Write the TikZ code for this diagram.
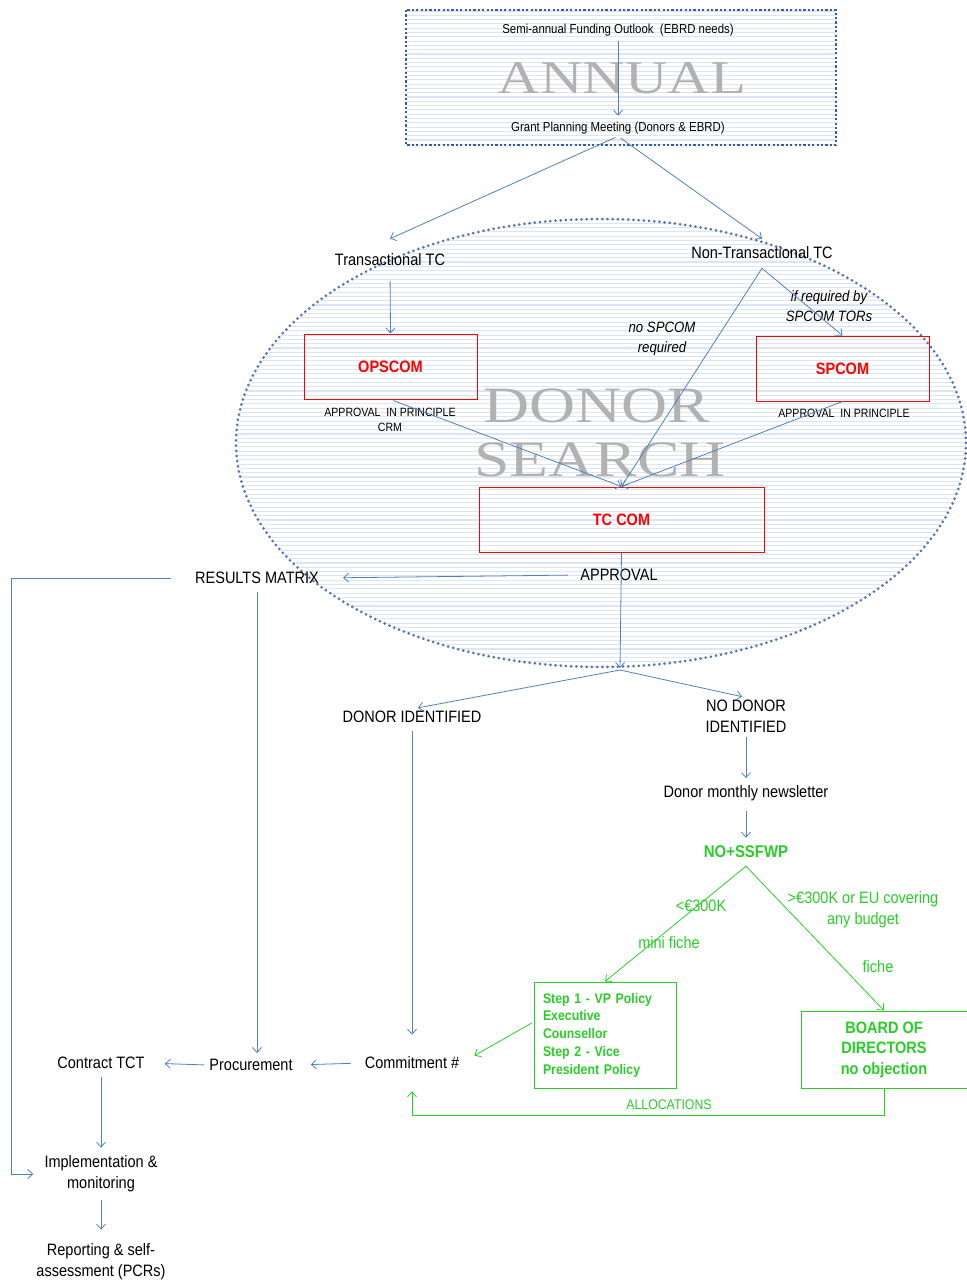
\documentclass[tikz,border=0pt]{standalone}
\usepackage{fontspec}
\setmainfont{Liberation Sans}[FakeStretch=0.88]
\newfontfamily\markfont{Liberation Serif}[FakeStretch=1.25]
\usetikzlibrary{arrows.meta}
\definecolor{FlowBlue}{RGB}{79,129,189}
\definecolor{DotBlue}{RGB}{50,92,165}
\definecolor{StripeBlue}{RGB}{220,229,243}
\definecolor{ComRed}{RGB}{255,0,0}
\definecolor{NoGreen}{RGB}{40,205,40}
\definecolor{MarkGray}{RGB}{178,178,178}
\tikzset{
  txt/.style={font=\fontsize{16.5}{21}\selectfont,align=center,inner sep=2pt},
  small/.style={font=\fontsize{12}{15}\selectfont,align=center,inner sep=2pt},
  note/.style={font=\fontsize{15}{19.5}\selectfont\itshape,align=center,inner sep=2pt},
  gtxt/.style={txt,text=NoGreen},
  combox/.style={draw=ComRed,line width=1pt,text=ComRed,font=\fontsize{16.5}{20}\selectfont\bfseries},
  gbox/.style={draw=NoGreen,line width=1pt,text=NoGreen,font=\fontsize{14}{17.8}\selectfont\bfseries},
  wmark/.style={text=MarkGray,inner sep=0pt},
  stripe/.style={draw=StripeBlue,line width=1.1pt},
  link/.style={draw=FlowBlue,line width=0.8pt,->},
  glink/.style={draw=NoGreen,line width=0.8pt,->},
}

\begin{document}
\begin{tikzpicture}[x=1pt,y=-1pt,>={Straight Barb[length=5pt,width=9pt]}]
\useasboundingbox (0,0) rectangle (966,1284);

% striped backgrounds
\begin{scope}
\clip (406,10) rectangle (836,145);
\foreach \y in {11,15.3,...,145} \draw[stripe] (406,\y) -- (836,\y);
\end{scope}
\begin{scope}
\clip (601,443) ellipse [x radius=365,y radius=224];
\foreach \y in {219,223.3,...,668} \draw[stripe] (230,\y) -- (970,\y);
\end{scope}

% big grey captions
\node[wmark,font=\markfont\fontsize{47}{47}\selectfont] (annualmark) at (622,78) {ANNUAL};
\node[wmark,font=\markfont\fontsize{51}{51}\selectfont] (donormark) at (597,406) {DONOR};
\node[wmark,font=\markfont\fontsize{51}{51}\selectfont] (searchmark) at (600,460) {SEARCH};

% frames
\draw[DotBlue,line width=2.6pt,dash pattern=on 2.2pt off 2.2pt] (406,10) rectangle (836,145);
\draw[DotBlue!85,line width=3pt,line cap=round,dash pattern=on 0pt off 5.2pt] (601,443) ellipse [x radius=365,y radius=224];

% annual planning
\node[small,font=\fontsize{13}{15}\selectfont] (outlook) at (618,30) {Semi-annual Funding Outlook\ \ (EBRD needs)};
\node[small,font=\fontsize{13}{15}\selectfont] (grant) at (618,128) {Grant Planning Meeting (Donors \& EBRD)};

\node[txt] (tran) at (390,260) {Transactional TC};
\node[txt] (nontran) at (762,253) {Non-Transactional TC};

% committees
\node[combox,minimum width=173pt,minimum height=65pt] (opscom) at (390.5,366.5) {OPSCOM};
\node[combox,minimum width=173pt,minimum height=65pt] (spcom) at (842.5,368.5) {SPCOM};
\node[combox,minimum width=285pt,minimum height=65pt] (tccom) at (621.5,519.5) {TC COM};
\node[small] (apprcrm) at (390,420) {APPROVAL\ \ IN PRINCIPLE\\CRM};
\node[small] (apprsp) at (844,413) {APPROVAL\ \ IN PRINCIPLE};
\node[note] (ifreq) at (829,306) {if required by\\SPCOM\ TORs};
\node[note] (nospcom) at (662,339) {no SPCOM\\required};

\node[txt] (approval) at (619,575) {APPROVAL};
\node[txt] (results) at (257,578) {RESULTS MATRIX};
\coordinate (split) at (620,670);

\node[txt] (donorid) at (412,717) {DONOR IDENTIFIED};
\node[txt] (nodonor) at (746,716) {NO DONOR\\IDENTIFIED};
\node[txt] (newsletter) at (746,793) {Donor monthly newsletter};
\node[gtxt,font=\fontsize{17}{20}\selectfont\bfseries] (ssfwp) at (746,852) {NO+SSFWP};

\node[gtxt] (lt300) at (701,906) {<€300K};
\node[gtxt] (minifiche) at (669,943) {mini fiche};
\node[gtxt] (gt300) at (863,910) {>€300K or EU covering\\any budget};
\node[gtxt] (fiche) at (878,967) {fiche};

\node[gbox,minimum width=142pt,minimum height=106pt,text width=124pt,inner sep=9pt,align=left] (step) at (605,1035)
  {Step 1 - VP Policy\\Executive\\Counsellor\\Step 2 - Vice\\President Policy};
\node[gbox,font=\fontsize{16.5}{20.5}\selectfont\bfseries,minimum width=166pt,minimum height=77pt,align=center] (board) at (884,1049.5)
  {BOARD OF\\DIRECTORS\\no objection};
\node[gtxt,font=\fontsize{14}{16}\selectfont] (alloc) at (669,1105) {ALLOCATIONS};

\node[txt] (commit) at (412,1063) {Commitment \#};
\node[txt] (proc) at (251,1065) {Procurement};
\node[txt] (contract) at (101,1063) {Contract TCT};
\node[txt] (impl) at (101,1174) {Implementation \&\\monitoring};
\node[txt] (report) at (101,1262) {Reporting \& self-\\assessment (PCRs)};
\coordinate (leftrail) at (11,578);
\coordinate (allocrow) at (650,1115);

% flow
\draw[link,shorten <=3pt,shorten >=4pt] (outlook) -- (grant);
\draw[link,shorten <=3pt] (grant.south) -- ([yshift=13pt]tran.north);
\draw[link,shorten <=3pt] (grant.south) -- ([yshift=6pt]nontran.north);
\draw[link,shorten <=13pt] (tran.south) -- (opscom.north);
\draw[link] ([yshift=-7pt]nontran.south) -- (spcom.north);
\draw[link] ([yshift=-7pt]nontran.south) -- (tccom.north);
\draw[link,shorten <=3pt] (opscom.south) -- (tccom.north);
\draw[link] (spcom.south) -- (tccom.north);
\draw[link,shorten >=2pt] (tccom.south) -- (split);
\draw[link,shorten <=10pt,shorten >=22pt] (approval.west) -- (results.east);
\draw[link,shorten >=6pt] (split) -- (donorid.north);
\draw[link,shorten >=4pt] (split) -- (nodonor.north);
\draw[link,shorten <=3pt,shorten >=5pt] (nodonor.south) -- (newsletter.north);
\draw[link,shorten <=8pt,shorten >=6pt] (newsletter.south) -- (ssfwp.north);
\draw[glink] ([yshift=-6pt]ssfwp.south) -- (step.north);
\draw[glink] ([yshift=-6pt]ssfwp.south) -- (board.north);
\draw[glink,shorten <=2pt,shorten >=15pt] ([yshift=13pt]step.west) -- (commit.east);
\draw[glink,shorten >=20pt] (board.south) |- (allocrow) -| (commit.south);
\draw[link,shorten <=6pt,shorten >=20pt] (donorid.south) -- (commit.north);
\draw[link,shorten <=12pt,shorten >=16pt] (commit.west) -- (proc.east);
\draw[link,shorten <=3pt,shorten >=18pt] (proc.west) -- (contract.east);
\draw[link,shorten <=6pt,shorten >=4pt] (results.south) -- (results.south |- proc.north);
\draw[link,shorten <=22pt,shorten >=9pt] (results.west) -- (leftrail) |- (impl.west);
\draw[link,shorten <=6pt,shorten >=6pt] (contract.south) -- (impl.north);
\draw[link,shorten <=6pt,shorten >=12pt] (impl.south) -- (report.north);
\end{tikzpicture}
\end{document}
